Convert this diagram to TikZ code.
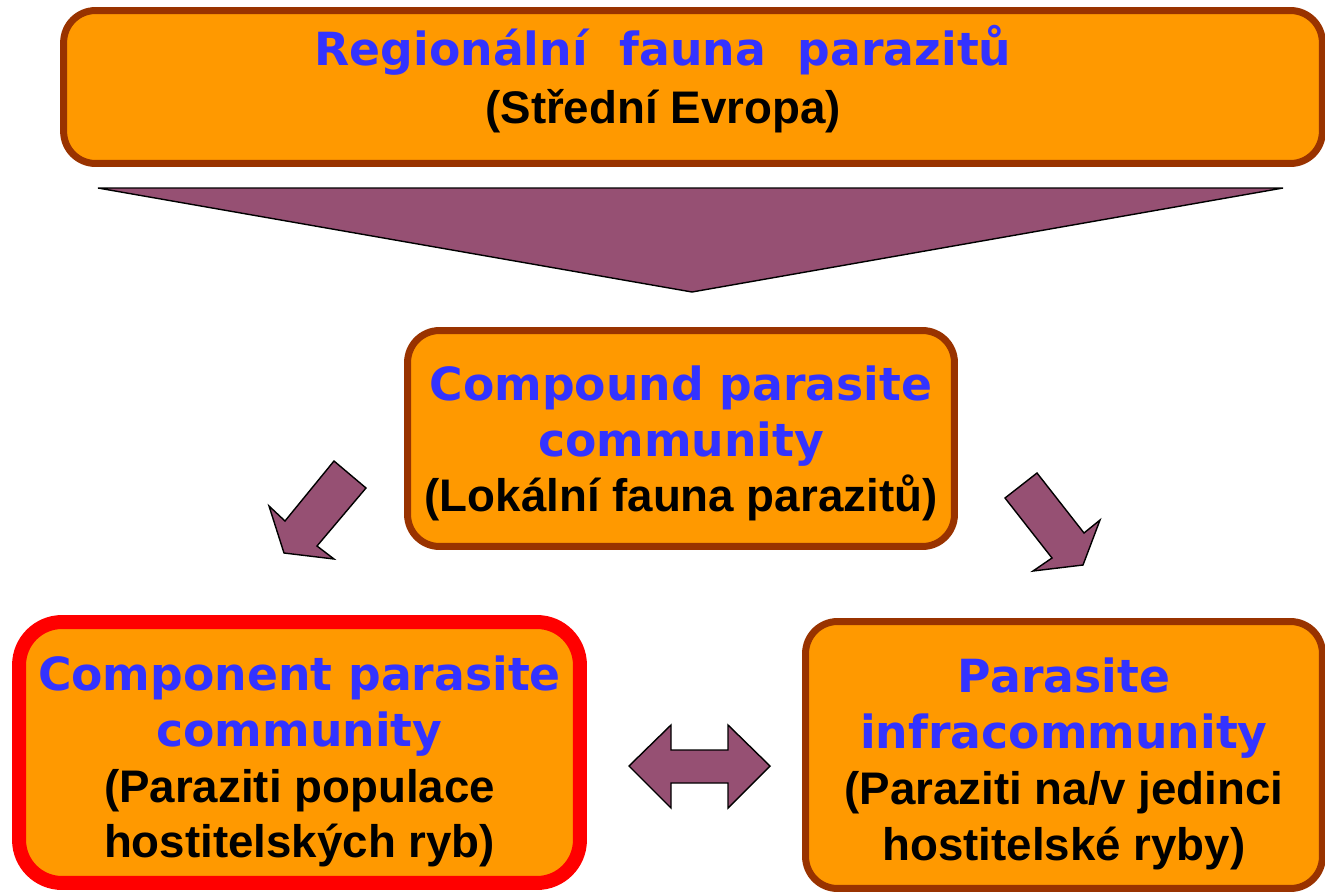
\documentclass[tikz,border=0pt]{standalone}
\usepackage{fontspec}
\setmainfont{Liberation Sans}
\newfontfamily\headfont{DejaVu Sans}

\definecolor{boxfill}{RGB}{255,153,0}
\definecolor{boxline}{RGB}{153,51,0}
\definecolor{headblue}{RGB}{51,51,255}
\definecolor{arrowfill}{RGB}{150,80,115}

\newcommand{\hd}[1]{{\headfont\color{headblue}#1}}

\tikzset{
  box/.style={draw=boxline, fill=boxfill, line width=0.14cm, rounded corners=0.64cm,
    align=center, inner sep=0pt, font=\fontsize{26}{31.75}\selectfont\bfseries},
  redbox/.style={box, draw=red, line width=0.28cm, rounded corners=0.86cm},
  blockarrow/.style={draw=black, fill=arrowfill, line width=0.8pt, line join=miter}
}

\begin{document}
\begin{tikzpicture}[x=0.02cm, y=-0.02cm]
  \useasboundingbox (0,0) rectangle (1325,893);

  % regional fauna on top
  \node[box, minimum width=25.18cm, minimum height=3.06cm] (regional) at (693,87) {};
  \node[font=\fontsize{26}{32.9}\selectfont\bfseries, align=center] (regionaltxt) at (663,79)
    {\hd{Regionální\ \ fauna\ \ parazitů}\\(Střední Evropa)};

  % funnel
  \draw[blockarrow] (98,188) -- (1283,188) -- (692,292) -- cycle;

  \node[box, minimum width=10.94cm, minimum height=4.32cm] (compound) at (681,438.5)
    {\rule{0pt}{25.5pt}\hd{Compound parasite}\\\hd{community}\\(Lokální fauna parazitů)};

  \node[redbox, minimum width=11.22cm, minimum height=5.22cm] (component) at (299.5,752.5)
    {\rule{0pt}{30pt}\hd{Component parasite}\\\hd{community}\\(Paraziti populace\\hostitelských ryb)};

  \node[box, minimum width=10.34cm, minimum height=5.34cm] (infra) at (1064,755)
    {\rule{0pt}{30pt}\hd{Parasite}\\\hd{infracommunity}\\(Paraziti na/v jedinci\\hostitelské ryby)};

  % block arrows
  \draw[blockarrow] (334,461) -- (366,488) -- (317,546) -- (334,559) -- (284,553)
    -- (269,506) -- (285,521) -- cycle;
  \draw[blockarrow] (1005,498) -- (1037,473) -- (1084,533) -- (1100,520) -- (1083,565)
    -- (1033,571) -- (1052,558) -- cycle;
  \draw[blockarrow] (629,766) -- (671,725) -- (671,750) -- (728,750) -- (728,725)
    -- (770,766) -- (728,808) -- (728,783) -- (671,783) -- (671,808) -- cycle;
\end{tikzpicture}
\end{document}
